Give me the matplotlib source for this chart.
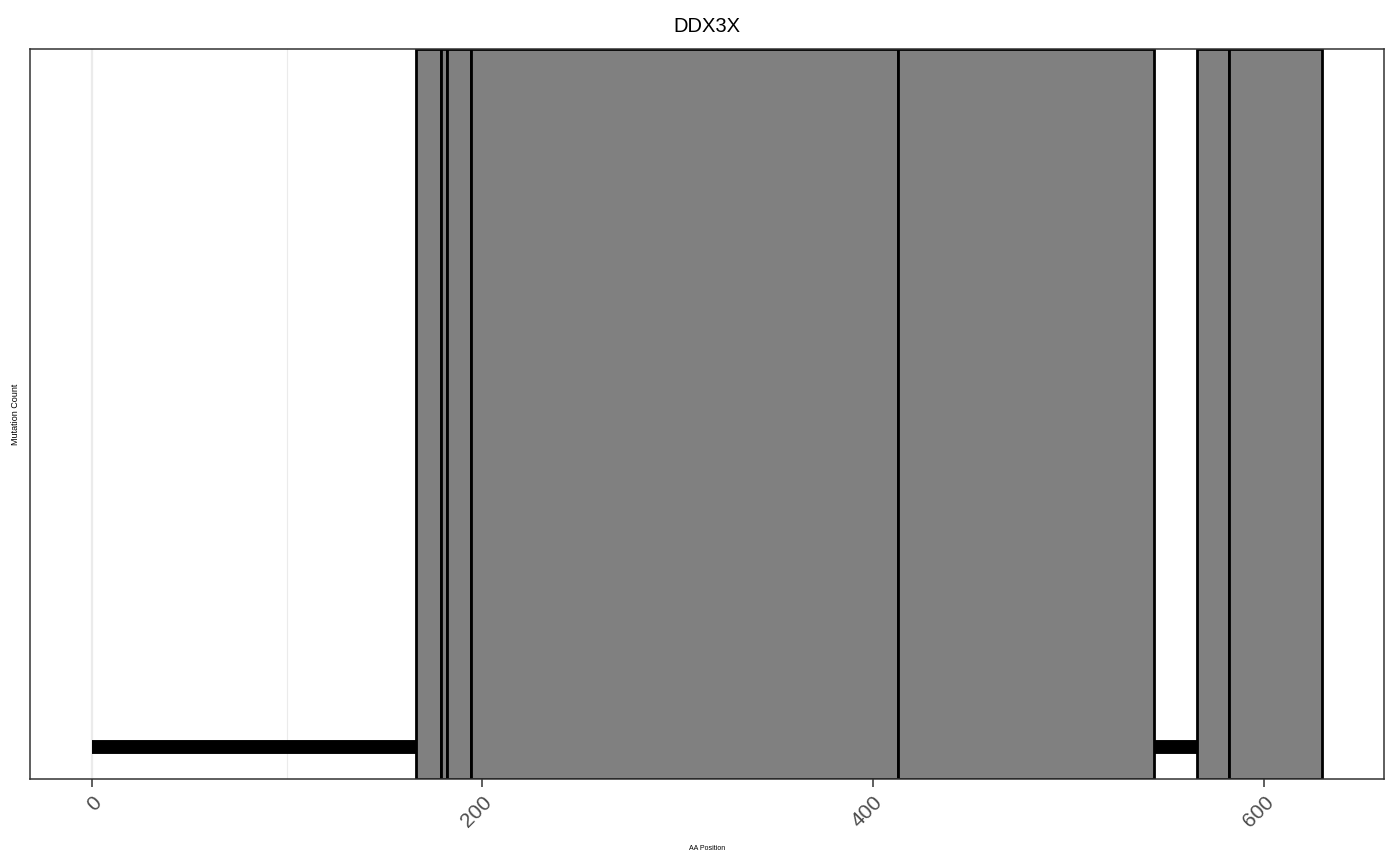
import matplotlib
matplotlib.use("Agg")
import matplotlib.pyplot as plt
from matplotlib.patches import Rectangle

plt.rcParams["font.family"] = ["Liberation Sans", "DejaVu Sans"]

# protein backbone and domain segments (AA positions)
gene = "DDX3X"
protein_start = 0
protein_end = 630
domain_starts = [166, 179, 182, 194, 413, 566, 582]
domain_ends = [179, 182, 194, 413, 544, 582, 630]
major_ticks = [0, 200, 400, 600]
minor_ticks = [100, 300, 500]

fig = plt.figure(figsize=(14, 8.66), dpi=100)
ax = fig.add_axes([30 / 1400, 87 / 866, 1354 / 1400, 730 / 866])

span = protein_end - protein_start
ax.set_xlim(protein_start - 0.05 * span, protein_end + 0.05 * span)
ax.set_ylim(0, 1)

# grid (theme_bw style, only vertical lines left)
for x in major_ticks:
    ax.axvline(x, color="#EBEBEB", lw=1.6, zorder=0)
for x in minor_ticks:
    ax.axvline(x, color="#EBEBEB", lw=0.8, zorder=0)

ax.plot([protein_start, protein_end], [0.044, 0.044], color="black",
        lw=10, solid_capstyle="butt", zorder=1)

for s, e in zip(domain_starts, domain_ends):
    ax.add_patch(Rectangle((s, 0), e - s, 1, facecolor="#808080",
                           edgecolor="black", lw=2.0, zorder=2))

ax.set_xticks(major_ticks)
ax.set_xticklabels([str(t) for t in major_ticks], rotation=45, ha="right",
                   va="top", rotation_mode="anchor", fontsize=15,
                   color="#4D4D4D")
ax.tick_params(axis="x", length=6, width=1.1, color="#333333", pad=4)
ax.set_yticks([])

for sp in ax.spines.values():
    sp.set_color("#333333")
    sp.set_linewidth(1.1)
    sp.set_zorder(3)

ax.set_xlabel("AA Position", fontsize=5, labelpad=10)
ax.set_ylabel("Mutation Count", fontsize=6.5, labelpad=7)
ax.set_title(gene, fontsize=14.5, pad=12)

fig.savefig("out.png", dpi=100)
